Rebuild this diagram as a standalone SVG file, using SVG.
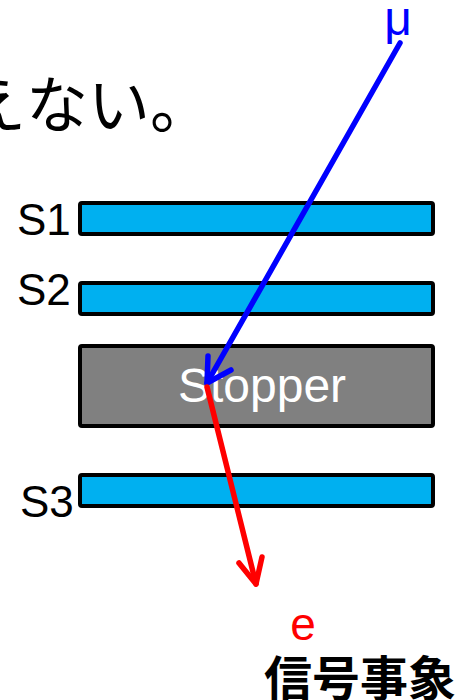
<svg xmlns="http://www.w3.org/2000/svg" width="459" height="700" viewBox="0 0 459 700">
<style>
.bar{fill:#00B0F0;stroke:#000;stroke-width:4}
.stop{fill:#808080;stroke:#000;stroke-width:4}
.lbl{font-family:"Liberation Sans",Arial,sans-serif;font-size:44px;fill:#000}
.jp{font-family:"Noto Sans CJK JP","Noto Sans",sans-serif}
</style>
<rect width="459" height="700" fill="#fff"/>
<text class="jp" x="-36" y="128" font-size="62" fill="#000">えない。</text>
<g id="S1"><rect class="bar" x="80" y="203" width="353" height="31" rx="2"/><text class="lbl" x="17" y="235">S1</text></g>
<g id="S2"><rect class="bar" x="80" y="283" width="353" height="31" rx="2"/><text class="lbl" x="17" y="305">S2</text></g>
<g id="Stopper"><rect class="stop" x="80" y="346" width="353" height="80" rx="2"/><text x="262" y="402" text-anchor="middle" font-family="Liberation Sans,Arial,sans-serif" font-size="48" fill="#fff">Stopper</text></g>
<g id="S3"><rect class="bar" x="80" y="475" width="353" height="31" rx="2"/><text class="lbl" x="20" y="517">S3</text></g>
<g id="connectors" fill="none" stroke-width="5.5" stroke-linecap="round" stroke-linejoin="round">
<path d="M400,43 L207,383" stroke="#0000FF"/>
<path d="M208,356 L207,383 L231,370" stroke="#0000FF"/>
<path d="M207,387 L256,584" stroke="#FF0000"/>
<path d="M239,563 L256,584 L262,557" stroke="#FF0000"/>
</g>
<text x="398" y="35" text-anchor="middle" font-family="Liberation Sans,Arial,sans-serif" font-size="48" fill="#0000FF">μ</text>
<text x="303" y="640" text-anchor="middle" font-family="Liberation Sans,Arial,sans-serif" font-size="46" fill="#FF0000">e</text>
<text class="jp" x="264" y="696" font-size="48" font-weight="bold" fill="#000">信号事象</text>
</svg>
